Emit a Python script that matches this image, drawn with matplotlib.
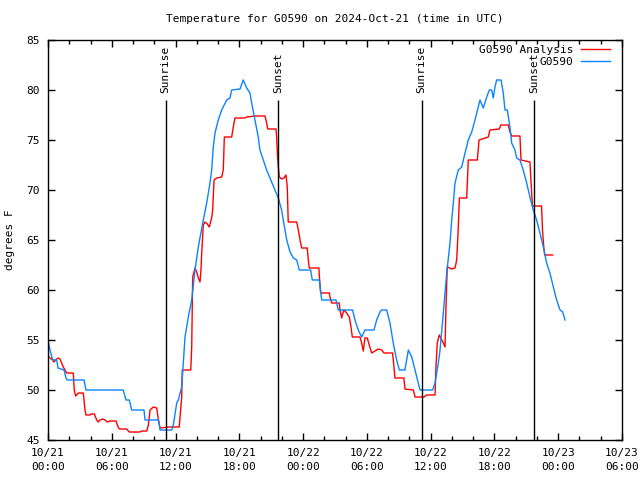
import numpy as np
import matplotlib
matplotlib.use("Agg")
import matplotlib.pyplot as plt

# hours since 2024-10-21 00:00 UTC, temps in F
obs_hours = [0.00, 0.19, 0.38, 0.47, 0.82, 0.94, 1.51, 1.69, 1.82, 3.39, 3.57, 7.08, 7.34, 7.65,
             7.87, 9.03, 9.13, 10.41, 10.54, 11.64, 11.79, 12.11, 12.26, 12.58, 12.89, 13.20,
             13.52, 13.83, 14.14, 14.61, 14.93, 15.24, 15.40, 15.55, 15.71, 16.02, 16.34, 16.81,
             17.12, 17.28, 18.06, 18.37, 18.69, 19.00, 19.16, 19.47, 19.78, 19.94, 20.25, 20.57,
             20.88, 21.35, 21.67, 21.98, 22.13, 22.46, 22.77, 23.08, 23.40, 23.64, 24.71, 24.86,
             25.52, 25.75, 27.09, 27.31, 28.66, 28.88, 29.19, 29.51, 29.82, 30.67, 30.92, 31.23,
             31.39, 31.86, 32.17, 32.48, 32.80, 33.05, 33.58, 33.90, 34.22, 34.53, 34.84, 35.00,
             36.19, 36.41, 36.72, 36.88, 37.19, 37.51, 37.82, 37.98, 38.13, 38.29, 38.60, 38.92,
             39.23, 39.54, 39.86, 40.17, 40.48, 40.64, 40.95, 41.27, 41.52, 41.74, 41.89, 42.05,
             42.21, 42.62, 42.83, 42.99, 43.21, 43.46, 43.62, 43.93, 44.09, 44.40, 44.71, 45.03,
             45.34, 45.65, 45.97, 46.28, 46.60, 46.91, 47.22, 47.54, 47.85, 48.17, 48.42, 48.64]
obs_temp = [55.0, 54.0, 53.2, 53.0, 53.0, 52.2, 52.0, 51.2, 51.0, 51.0, 50.0, 50.0, 49.0, 49.0,
            48.0, 48.0, 47.0, 47.0, 46.0, 46.0, 46.5, 48.7, 49.0, 50.3, 55.3, 57.3,
            59.0, 62.0, 64.3, 67.0, 68.7, 70.7, 72.0, 74.3, 75.7, 77.0, 78.0, 79.0,
            79.2, 80.0, 80.1, 81.0, 80.2, 79.7, 78.7, 77.0, 75.3, 74.0, 73.0, 72.0,
            71.2, 70.0, 69.2, 68.0, 67.0, 65.0, 63.8, 63.2, 63.0, 62.0, 62.0, 61.0,
            61.0, 59.0, 59.0, 58.0, 58.0, 57.0, 56.0, 55.3, 56.0, 56.0, 57.0, 57.8,
            58.0, 58.0, 56.7, 54.7, 53.0, 52.0, 52.0, 54.0, 53.3, 52.0, 50.7, 50.0,
            50.0, 50.7, 52.7, 54.0, 57.7, 61.7, 64.7, 67.0, 68.7, 70.7, 72.0, 72.3,
            73.7, 75.0, 75.8, 77.0, 78.3, 79.0, 78.2, 79.3, 80.0, 80.0, 79.2, 80.3,
            81.0, 81.0, 79.7, 78.0, 78.0, 76.3, 74.7, 74.0, 73.2, 73.0, 72.0, 70.7,
            69.3, 68.0, 67.0, 65.7, 64.3, 62.7, 61.7, 60.3, 59.0, 58.0, 57.8, 57.0]

ana_hours = [0.00, 0.19, 0.44, 0.56, 0.82, 0.97, 1.13, 1.29, 1.44, 1.76, 2.38, 2.47, 2.60, 2.85,
             3.32, 3.48, 3.57, 3.95, 4.02, 4.36, 4.58, 4.73, 4.89, 5.15, 5.36, 5.58, 5.83, 6.40,
             6.56, 6.71, 7.40, 7.65, 8.65, 8.81, 9.29, 9.44, 9.60, 9.91, 10.23, 10.38, 10.54,
             11.32, 12.35, 12.42, 12.58, 12.63, 13.43, 13.52, 13.61, 13.83, 13.99, 14.14, 14.30,
             14.39, 14.46, 14.61, 14.77, 14.99, 15.17, 15.40, 15.49, 15.62, 15.87, 16.34, 16.49,
             16.59, 17.28, 17.43, 17.59, 18.53, 18.69, 19.47, 20.41, 20.57, 20.67, 21.45, 21.51,
             21.57, 21.67, 21.76, 21.98, 22.20, 22.39, 22.51, 22.60, 23.40, 23.55, 23.71, 23.87,
             24.39, 24.49, 24.58, 25.49, 25.52, 25.65, 26.46, 26.53, 26.69, 27.40, 27.47, 27.63,
             27.72, 27.85, 28.10, 28.34, 28.48, 28.63, 29.35, 29.51, 29.66, 29.82, 30.04, 30.22,
             30.45, 30.76, 31.07, 31.39, 31.61, 32.42, 32.54, 32.64, 33.48, 33.58, 34.37, 34.53,
             35.37, 35.63, 36.41, 36.50, 36.62, 36.81, 37.04, 37.19, 37.35, 37.44, 37.56, 37.98,
             38.29, 38.45, 38.60, 38.70, 39.39, 39.54, 40.39, 40.55, 41.42, 41.58, 42.45, 42.61,
             43.30, 43.46, 43.62, 44.40, 44.50, 45.34, 45.50, 45.58, 46.43, 46.52, 46.64, 46.73,
             47.48]
ana_temp = [53.4, 53.2, 53.0, 52.8, 53.1, 53.2, 53.1, 52.7, 52.3, 51.7, 51.7, 50.0, 49.4, 49.7,
            49.7, 48.0, 47.5, 47.5, 47.6, 47.6, 47.0, 46.8, 47.0, 47.1, 47.0, 46.8, 46.9, 46.9,
            46.4, 46.1, 46.1, 45.8, 45.8, 45.9, 45.9, 46.5, 48.0, 48.3, 48.2, 47.0, 46.2,
            46.3, 46.3, 47.3, 49.3, 52.0, 52.0, 54.3, 61.3, 62.2, 61.8, 61.2, 60.8,
            62.0, 63.7, 66.5, 66.8, 66.6, 66.3, 67.2, 68.0, 71.0, 71.2, 71.3, 72.0,
            75.3, 75.3, 76.3, 77.2, 77.2, 77.3, 77.4, 77.4, 76.7, 76.1, 76.1, 75.3,
            73.8, 72.3, 71.3, 71.1, 71.2, 71.5, 70.3, 66.8, 66.8, 66.0, 65.0, 64.2,
            64.2, 63.0, 62.2, 62.2, 61.5, 59.7, 59.7, 59.3, 58.7, 58.7, 58.0, 57.2,
            57.6, 58.0, 57.7, 57.3, 56.5, 55.3, 55.3, 54.7, 53.9, 55.2, 55.2, 54.5,
            53.7, 53.9, 54.1, 54.0, 53.7, 53.7, 52.3, 51.2, 51.2, 50.1, 50.0, 49.3,
            49.3, 49.5, 49.5, 52.3, 54.7, 55.5, 55.0, 54.7, 54.3, 58.3, 62.3, 62.1,
            62.2, 63.0, 66.3, 69.2, 69.2, 73.0, 73.0, 75.0, 75.3, 76.0, 76.1, 76.5,
            76.5, 75.8, 75.4, 75.4, 73.0, 72.8, 69.7, 68.4, 68.4, 66.0, 64.3, 63.5,
            63.5]

sun_hours = [11.07, 21.67, 35.15, 45.72]
sun_labels = ["Sunrise", "Sunset", "Sunrise", "Sunset"]

plt.rcParams['font.family'] = ['DejaVu Sans Mono']
plt.rcParams['font.size'] = 8

fig = plt.figure(figsize=(6.4, 4.8), dpi=100)
ax = fig.add_axes([48 / 640, 40 / 480, 574 / 640, 400 / 480])

ax.plot(ana_hours, ana_temp, color='#ff0000', lw=1.0, label='G0590 Analysis')
ax.plot(obs_hours, obs_temp, color='#0a84ff', lw=1.0, label='G0590')

for h, lab in zip(sun_hours, sun_labels):
    ax.vlines(h, 45, 79, color='black', lw=1.0)
    ax.text(h, 79.7, lab, rotation=90, ha='center', va='bottom', fontsize=8)

ax.set_xlim(0, 54)
ax.set_ylim(45, 85)
xt = np.arange(0, 55, 6)
ax.set_xticks(xt)
ax.set_xticklabels([f"10/{21 + int(t) // 24}\n{int(t) % 24:02d}:00" for t in xt],
                   linespacing=1.45)
ax.set_xticks(np.arange(0, 55, 2), minor=True)
ax.set_yticks(np.arange(45, 86, 5))
ax.tick_params(which='both', direction='in', top=True, right=True, width=1)
ax.tick_params(which='major', length=5, pad=6)
ax.tick_params(which='minor', length=3)
for s in ax.spines.values():
    s.set_linewidth(1)

ax.legend(loc='upper right', bbox_to_anchor=(1 - 12 / 574, 1 - 5 / 400), frameon=False,
          markerfirst=False, handlelength=2.6, handletextpad=0.7, labelspacing=0.15,
          borderaxespad=0, borderpad=0, fontsize=8)

fig.text(335 / 640, 1 - 19 / 480, "Temperature for G0590 on 2024-Oct-21 (time in UTC)",
         ha='center', va='center', fontsize=8)
fig.text(10 / 640, 0.5, "degrees F", rotation=90, ha='center', va='center', fontsize=8)

fig.savefig("out.png", dpi=100)
